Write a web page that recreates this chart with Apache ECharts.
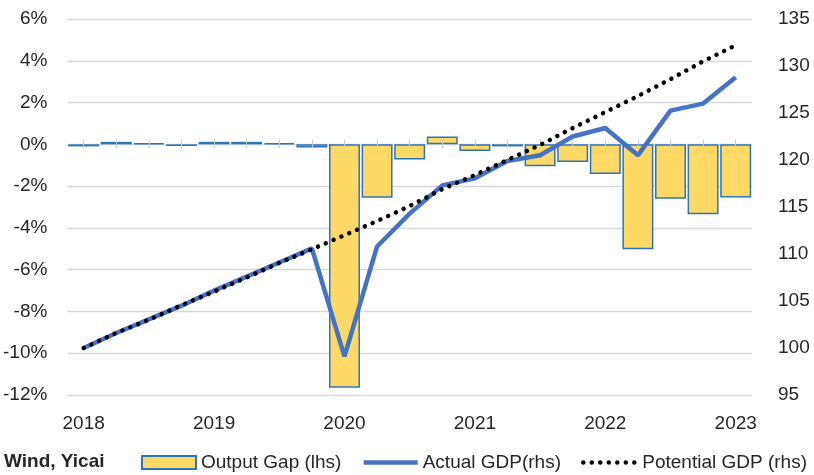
<!DOCTYPE html>
<html>
<head>
<meta charset="utf-8">
<script src="https://cdn.jsdelivr.net/npm/echarts@6/dist/echarts.min.js"></script>
<style>
html,body{margin:0;padding:0;background:#fff;}
#chart{width:814px;height:475px;}
</style>
</head>
<body>
<div id="chart"></div>
<script>
const categories = ['2018Q1','2018Q2','2018Q3','2018Q4','2019Q1','2019Q2','2019Q3','2019Q4',
  '2020Q1','2020Q2','2020Q3','2020Q4','2021Q1','2021Q2','2021Q3','2021Q4',
  '2022Q1','2022Q2','2022Q3','2022Q4','2023Q1'];
const outputGap = [-0.10, 0.12, 0.06, -0.08, 0.12, 0.12, 0.06, -0.15, -11.65, -2.56, -0.73, 0.37,
  -0.32, -0.10, -1.05, -0.85, -1.42, -5.02, -2.60, -3.35, -2.55];
const actualGDP = [100.0, 101.6, 103.05, 104.5, 106.1, 107.6, 109.1, 110.6, 99.1, 110.8, 114.3, 117.3,
  118.05, 119.9, 120.5, 122.5, 123.4, 120.5, 125.25, 126.0, 128.8];
const potentialGDP = [100.0, 101.6, 103.0, 104.55, 106.0, 107.5, 109.05, 110.5, 112.0, 113.5, 115.1, 116.9,
  118.4, 120.0, 121.6, 123.4, 125.1, 126.8, 128.6, 130.5, 132.2];
const seriesNames = ['Output Gap (lhs)', 'Actual GDP(rhs)', 'Potential GDP (rhs)'];
const sourceText = 'Wind, Yicai';

const FONT = '"Liberation Sans", Arial, sans-serif';
const TXT = '#262626';

const chart = echarts.init(document.getElementById('chart'), null, {renderer: 'canvas'});
const tickAxis = (inside) => ({
  type: 'category', data: categories, position: 'bottom', z: 3,
  axisLine: {show: false, onZero: true, onZeroAxisIndex: 0},
  axisLabel: {show: false},
  splitLine: {show: false},
  axisTick: {show: true, alignWithLabel: true, interval: 0, inside: inside, length: inside ? 5 : 4,
    lineStyle: {color: '#cfcfcf', width: 1}}
});
chart.setOption({
  animation: false,
  textStyle: {fontFamily: FONT},
  grid: {left: 66, right: 62, top: 19, bottom: 80},
  xAxis: [
    {
      type: 'category', data: categories, position: 'bottom',
      axisLine: {show: false, onZero: false},
      axisTick: {show: false},
      axisLabel: {interval: 3, margin: 19, fontSize: 19, color: TXT, fontFamily: FONT,
        formatter: v => v.slice(0, 4)},
      splitLine: {show: false}
    },
    tickAxis(false),
    tickAxis(true)
  ],
  yAxis: [
    {
      type: 'value', min: -12, max: 6, interval: 2, position: 'left',
      axisLine: {show: false}, axisTick: {show: false},
      axisLabel: {formatter: '{value}%', fontSize: 19, color: TXT, margin: 20, fontFamily: FONT},
      splitLine: {show: true, lineStyle: {color: '#d9d9d9', width: 1.3}}
    },
    {
      type: 'value', min: 95, max: 135, interval: 5, position: 'right',
      axisLine: {show: false}, axisTick: {show: false},
      axisLabel: {fontSize: 19, color: TXT, margin: 26, fontFamily: FONT},
      splitLine: {show: false}
    }
  ],
  legend: {
    left: 141, top: 453, width: 690, padding: 0, itemWidth: 54, itemHeight: 13, itemGap: 20,
    selectedMode: false,
    textStyle: {fontSize: 19, color: TXT, fontFamily: FONT},
    data: [
      {name: seriesNames[0], icon: 'rect'},
      {name: seriesNames[1], itemStyle: {opacity: 0}, lineStyle: {width: 4.5}},
      {name: seriesNames[2], itemStyle: {opacity: 0}, lineStyle: {width: 4.5, type: [0.01, 8.5], cap: 'round'}}
    ]
  },
  graphic: [{
    type: 'text', left: 4, top: 452,
    style: {text: sourceText, font: 'bold 19px ' + FONT, fill: TXT}
  }],
  series: [
    {
      name: seriesNames[0], type: 'bar', data: outputGap, xAxisIndex: 0, yAxisIndex: 0,
      barWidth: '95%', z: 2,
      itemStyle: {color: '#FFD966', borderColor: '#2E75B6', borderWidth: 1.5}
    },
    {
      name: seriesNames[1], type: 'line', data: actualGDP, xAxisIndex: 0, yAxisIndex: 1,
      symbol: 'none', z: 4,
      lineStyle: {color: '#4472C4', width: 4.5}, itemStyle: {color: '#4472C4'}
    },
    {
      name: seriesNames[2], type: 'line', data: potentialGDP, xAxisIndex: 0, yAxisIndex: 1,
      symbol: 'none', z: 5,
      lineStyle: {color: '#000000', width: 4.5, type: [0.01, 8.5], cap: 'round'}, itemStyle: {color: '#000000'}
    }
  ]
});
</script>
</body>
</html>
